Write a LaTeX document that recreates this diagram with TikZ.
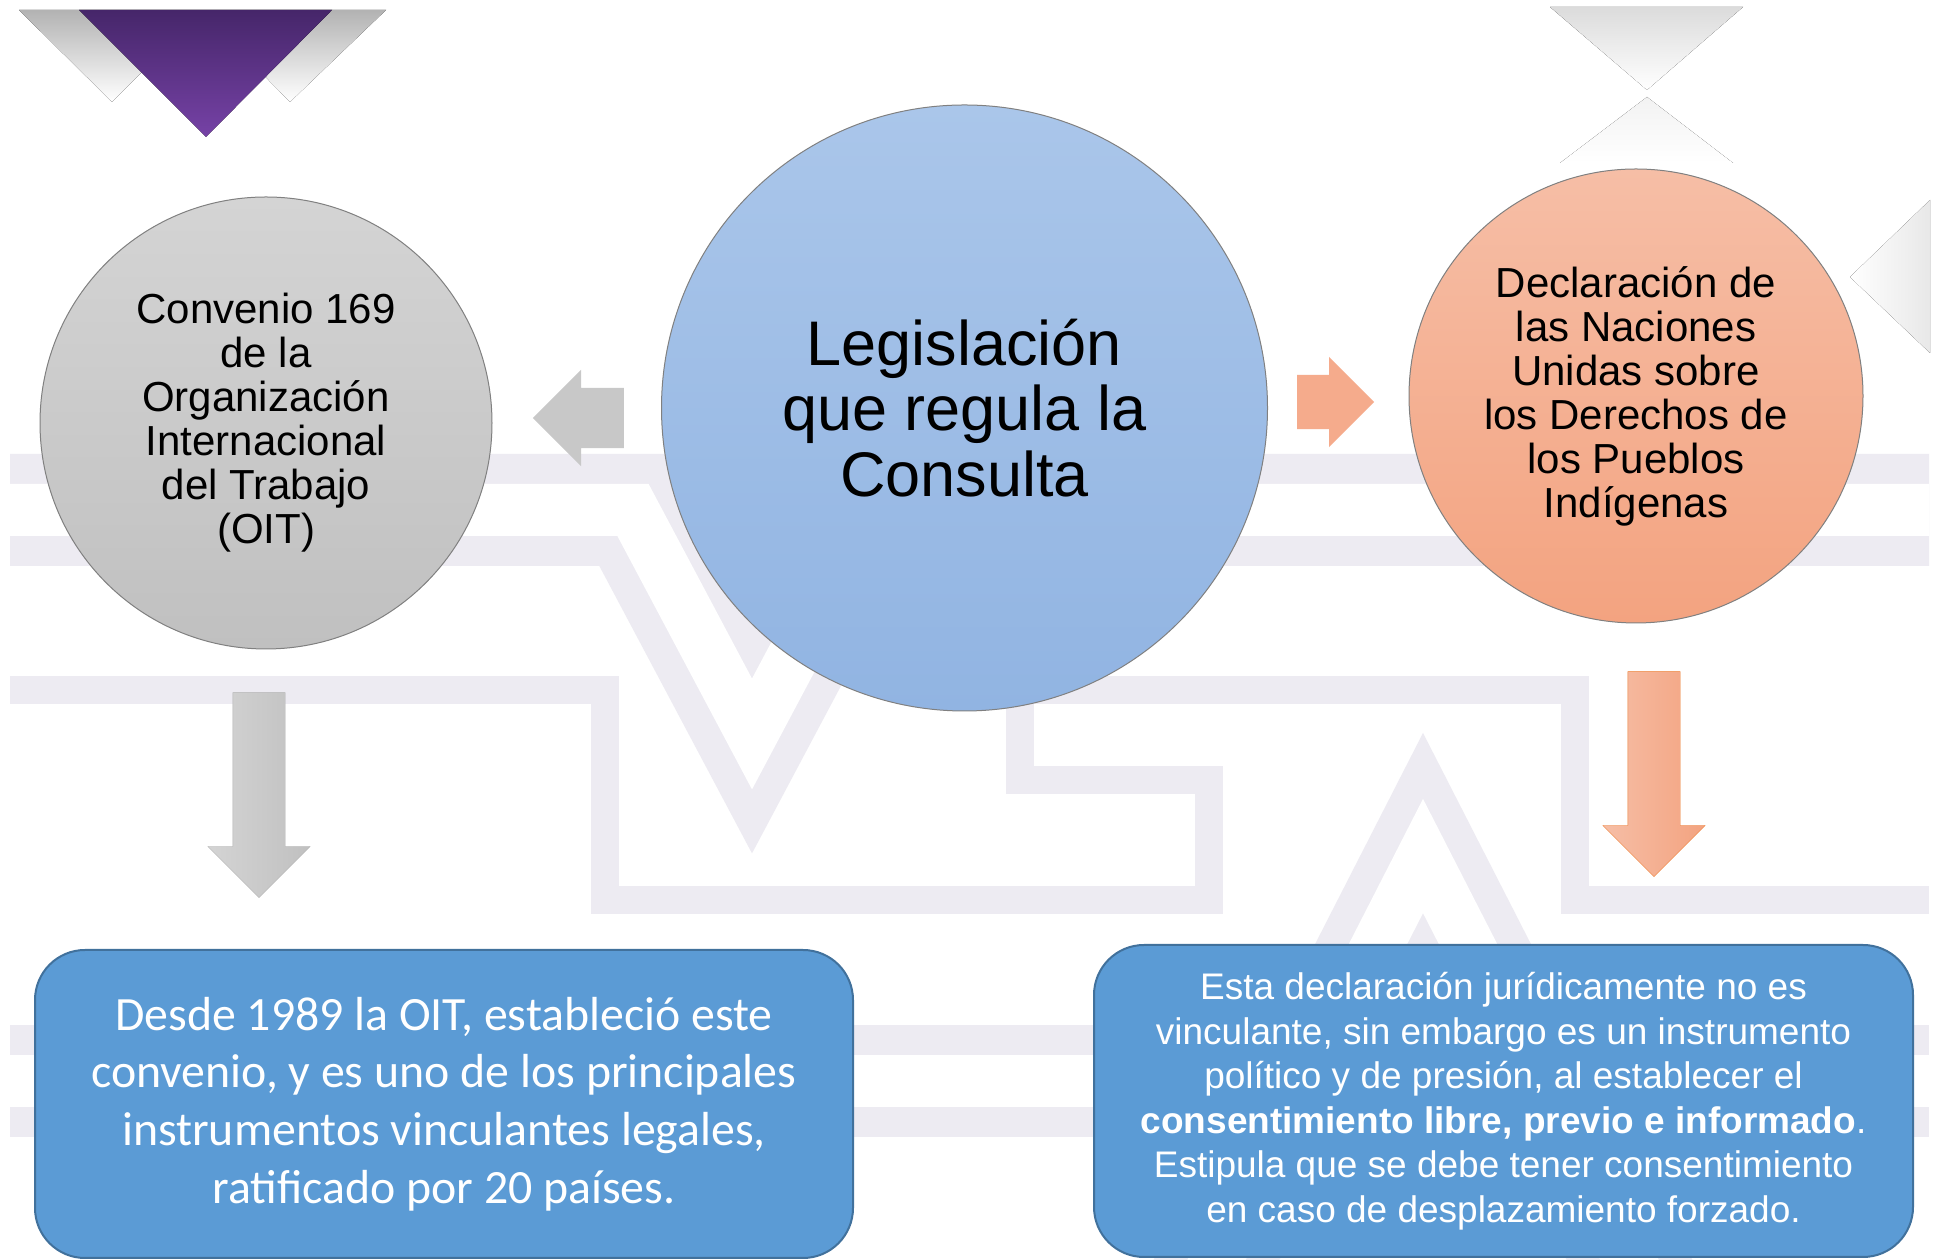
\documentclass[tikz,border=0pt]{standalone}
\usepackage{fontspec}
\setmainfont{Liberation Sans}
\newfontfamily\calibri{Carlito}
\usetikzlibrary{positioning,calc,shapes.arrows}

\definecolor{lavanda}{RGB}{237,235,242}
\definecolor{grisA}{RGB}{212,212,212}
\definecolor{grisB}{RGB}{192,192,192}
\definecolor{grisFlecha}{RGB}{200,200,200}
\definecolor{azulA}{RGB}{170,198,234}
\definecolor{azulB}{RGB}{145,180,226}
\definecolor{salmonA}{RGB}{246,190,166}
\definecolor{salmonB}{RGB}{243,163,128}
\definecolor{salmonFlecha}{RGB}{245,171,140}
\definecolor{naranja}{RGB}{237,125,49}
\definecolor{cajaAzul}{RGB}{91,155,213}
\definecolor{bordeCaja}{RGB}{65,113,156}
\definecolor{moradoA}{RGB}{70,38,106}
\definecolor{moradoB}{RGB}{118,66,166}

\begin{document}
\begin{tikzpicture}[x=1pt,y=1pt,
    doble/.style={draw=lavanda,line width=30pt,double=white,double distance=52pt},
    simple/.style={draw=lavanda,line width=28pt},
    circulo/.style={circle,inner sep=0pt,draw=black!50,line width=1pt,align=center,
                    font=\fontsize{42}{44}\selectfont},
    caja/.style={rectangle,rounded corners=50pt,fill=cajaAzul,draw=bordeCaja,
                 line width=2pt,text=white,align=center},
    flecha/.style={single arrow,inner xsep=0pt,inner ysep=26pt,
                   single arrow head extend=25pt,minimum height=205pt}]

  \useasboundingbox (0,0) rectangle (1939,1260);
  \fill [white] (0,0) rectangle (1939,1260);

  \draw [simple] (10,570) -- (605,570) -- (605,360) -- (1209,360) -- (1209,480)
    -- (1020,480) -- (1020,570) -- (1575,570) -- (1575,360) -- (1929,360);
  \draw [doble] (10,750) -- (633,750) -- (752,526) -- (871,750) -- (1929,750);
  \draw [doble] (1196,-40) -- (1423,404) -- (1650,-40);
  \draw [doble] (10,179) -- (1929,179);

  \fill [top color=black!30,bottom color=white] (19,1250) -- (386,1250)
    -- (290,1158) -- (202,1248) -- (112,1158) -- cycle;
  \fill [top color=moradoA,bottom color=moradoB] (79,1250) -- (332,1250)
    -- (206,1123) -- cycle;

  \fill [top color=black!14,bottom color=white] (1550,1253) -- (1743,1253)
    -- (1647,1170) -- cycle;
  \fill [top color=black!5,bottom color=white] (1647,1163) -- (1733,1097)
    -- (1560,1097) -- cycle;
  \fill [left color=white,right color=black!9] (1930,1060) -- (1850,983)
    -- (1930,907) -- cycle;

  \node [circulo,minimum size=452pt,top color=grisA,bottom color=grisB]
        (oit) at (266,837)
        {Convenio 169\\de la\\Organización\\Internacional\\del Trabajo\\(OIT)};

  \node [circulo,minimum size=606pt,top color=azulA,bottom color=azulB,
         font=\fontsize{63}{65.5}\selectfont]
        (leg) at (964.5,852) {Legislación\\que regula la\\Consulta};

  \node [circulo,minimum size=454pt,top color=salmonA,bottom color=salmonB]
        (decl) at (1636,864)
        {Declaración de\\las Naciones\\Unidas sobre\\los Derechos de\\los Pueblos\\Indígenas};

  \node [flecha,rotate=180,fill=grisFlecha,minimum height=91pt,inner ysep=30pt,
         single arrow head extend=18pt,anchor=tail]
        (flechaIzq) at ([xshift=-37pt,yshift=-10pt]leg.west) {};

  \node [flecha,fill=salmonFlecha,minimum height=77pt,inner ysep=27pt,
         single arrow head extend=18pt,anchor=tail]
        (flechaDer) at ([xshift=29pt,yshift=6pt]leg.east) {};

  \node [flecha,rotate=-90,left color=grisA,right color=grisB,draw=black!30,
         anchor=tail]
        (bajaGris) at ([xshift=-7pt,yshift=-43pt]oit.south) {};

  \node [flecha,rotate=-90,left color=salmonA,right color=salmonB,draw=naranja,
         anchor=tail]
        (bajaNaranja) at ([xshift=18pt,yshift=-48pt]decl.south) {};

  \node [caja,minimum width=818pt,minimum height=308pt,
         font=\calibri\fontsize{47.8}{57.7}\selectfont]
        (desde) at (444,156)
        {Desde 1989 la OIT, estableció este\\
         convenio, y es uno de los principales\\
         instrumentos vinculantes legales,\\
         ratificado por 20 países.};

  \node [caja,minimum width=819pt,minimum height=312pt,
         font=\fontsize{37}{44.5}\selectfont]
        (esta) at (1503.5,159)
        {Esta declaración jurídicamente no es\\
         vinculante, sin embargo es un instrumento\\
         político y de presión, al establecer el\\
         \textbf{consentimiento libre, previo e informado}.\\
         Estipula que se debe tener consentimiento\\
         en caso de desplazamiento forzado.};

\end{tikzpicture}
\end{document}
